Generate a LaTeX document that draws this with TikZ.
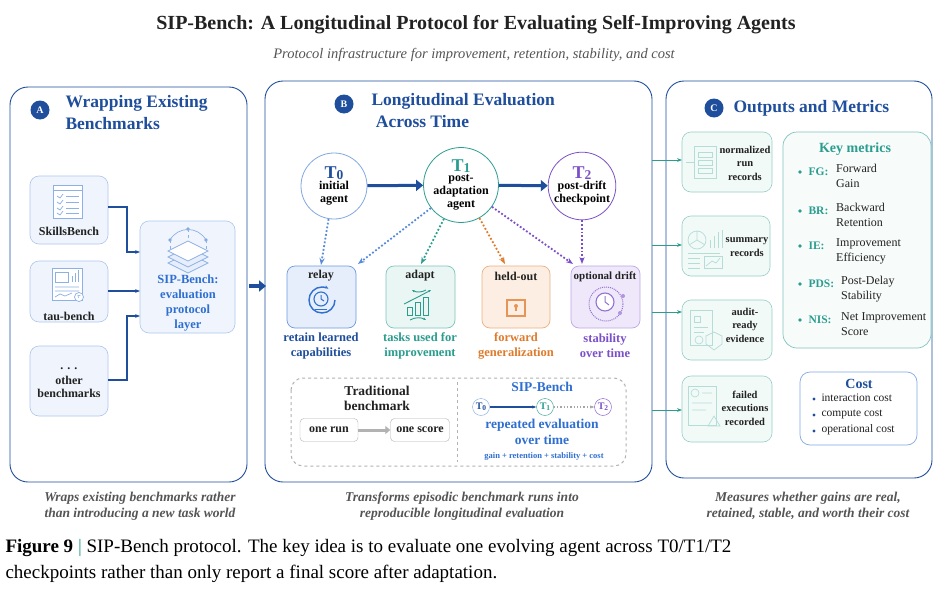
\documentclass[tikz,border=0pt]{standalone}
\usepackage{fontspec}
\setmainfont{Liberation Serif}
\usetikzlibrary{arrows.meta,positioning}
\definecolor{dblue}{HTML}{1F4E9C}
\definecolor{mblue}{HTML}{2F6FD0}
\definecolor{lblue}{HTML}{E6EEFB}
\definecolor{teal}{HTML}{2A9D8F}
\definecolor{lteal}{HTML}{EAF6F3}
\definecolor{orng}{HTML}{E07B2C}
\definecolor{lorng}{HTML}{FCEEE2}
\definecolor{purp}{HTML}{7B4FC9}
\definecolor{lpurp}{HTML}{EFE8FA}
\definecolor{gtxt}{HTML}{555555}
\definecolor{dtxt}{HTML}{222222}
\newcommand{\Tsub}[1]{T\raisebox{-0.15ex}{\scalebox{0.75}{#1}}}
\tikzset{
 panel/.style={draw=dblue,line width=0.9pt,rounded corners=18pt},
 badge/.style={circle,fill=dblue,text=white,font=\bfseries\fontsize{10}{10}\selectfont,inner sep=0pt,minimum size=19pt},
 ptitle/.style={text=dblue,font=\bfseries\fontsize{17.5}{22}\selectfont,align=left,anchor=west},
 sbox/.style={draw=mblue!40,fill=lblue!60,rounded corners=9pt,line width=0.6pt},
 btxt/.style={font=\bfseries\fontsize{12}{13.5}\selectfont,text=dtxt,align=center},
 conn/.style={draw=dblue,line width=1.1pt,-{Stealth[length=5pt]}},
 tc/.style={circle,fill=white,line width=0.8pt,minimum size=66pt,inner sep=0pt,align=center,font=\bfseries\fontsize{12}{13}\selectfont},
 big/.style={draw=dblue,line width=3.5pt,-{Triangle[length=7pt,width=11pt]}},
 dotarr/.style={line width=1.8pt,dotted,-{Stealth[length=7pt]}},
 cbox/.style={draw=teal!50,fill=lteal!60,rounded corners=9pt,line width=0.6pt},
 cconn/.style={draw=teal,line width=1pt,-{Stealth[length=5pt]}},
 captxt/.style={text=gtxt,font=\bfseries\itshape\fontsize{13.5}{16}\selectfont,align=center},
 icon/.style={draw=mblue!55,line width=0.7pt},
}
\begin{document}
\begin{tikzpicture}[x=1pt,y=-1pt]
\useasboundingbox (0,0) rectangle (945,605);
\fill[white] (0,0) rectangle (945,605);
% titles
\node[font=\bfseries\fontsize{20}{22}\selectfont,text=dtxt] (title) at (476,25) {SIP-Bench: A Longitudinal Protocol for Evaluating Self-Improving Agents};
\node[font=\itshape\fontsize{14.5}{16}\selectfont,text=gtxt] (sub) at (474,55) {Protocol infrastructure for improvement, retention, stability, and cost};
% panels
\draw[panel] (10,87) rectangle (247,482);
\draw[panel] (265,81) rectangle (652,482);
\draw[panel] (666,81) rectangle (932,478);
% ---- Panel A
\node[badge] (bA) at (40,110) {A};
\node[ptitle] (tA) at (62,113) {Wrapping Existing\\Benchmarks};
\draw[sbox] (30,176) rectangle (108,244);
\draw[sbox] (30,261) rectangle (108,322);
\draw[sbox] (30,346) rectangle (108,416);
\draw[sbox] (140,221) rectangle (235,333);
\node[btxt] (skt) at (69,231) {SkillsBench};
\node[btxt] (tat) at (69,316) {tau-bench};
\node[btxt,align=center] (ot) at (69,383) {\textbf{. . .}\\[1pt]other\\benchmarks};
\node[font=\bfseries\fontsize{12.5}{15}\selectfont,text=mblue,align=center] (sipt) at (188,303) {SIP-Bench:\\evaluation\\protocol\\layer};
% icons A
\draw[icon,fill=white] (53,185) rectangle (82,218); \draw[icon] (53,190)--(82,190);
\foreach \yy in {196,202,208,213}{\draw[icon] (57,\yy)--(60,\yy+2)--(63,\yy-2); \draw[icon] (66,\yy)--(79,\yy);}
\draw[icon,fill=white] (52,268) rectangle (82,300);
\draw[icon] (55,272) rectangle (68,282); \draw[icon] (72,282)--(72,276) (75,282)--(75,273) (78,282)--(78,270);
\draw[icon] (55,287)--(79,287) (55,291)--(79,291) (55,297)--(60,294)--(65,296)--(72,293);
\draw[icon,fill=white] (79,297) circle (4.5); \node[font=\fontsize{6}{6}\selectfont,text=mblue] at (79,297) {$\tau$};
\draw[icon,fill=lblue] (188,273)--(208,263)--(188,253)--(168,263)--cycle;
\draw[icon,fill=lblue] (188,267)--(208,257)--(188,247)--(168,257)--cycle;
\draw[icon,fill=white] (188,261)--(208,251)--(188,241)--(168,251)--cycle;
\draw[icon] (170,240) .. controls (178,226) and (198,226) .. (206,240);
\foreach \p in {(170,240),(188,229),(206,240)}{\fill[mblue!60] \p circle (1.8);}
\draw[icon,dashed] (170,240)--(170,251) (206,240)--(206,251) (188,229)--(188,241);
% connectors A
\coordinate (a1) at (108,207); \coordinate (a1t) at (140,252);
\coordinate (a2) at (108,291); \coordinate (a2t) at (140,291);
\coordinate (a3) at (108,380); \coordinate (a3t) at (140,316);
\draw[conn] (a1) -- (127,207) -- (127,252) -- (a1t);
\draw[conn] (a2) -- (a2t);
\draw[conn] (a3) -- (127,380) -- (127,316) -- (a3t);
\coordinate (bigA) at (249,286); \coordinate (bigB) at (266,286);
\draw[big] (bigA) -- (bigB);
% ---- Panel B
\node[badge] (bB) at (344,104) {B};
\node[ptitle] (tB) at (368,111) {Longitudinal Evaluation\\\ Across Time};
\node[tc,draw=mblue!60] (T0) at (334,186) {\textcolor{dblue}{\fontsize{18}{18}\selectfont\Tsub{0}}\\[-2pt]initial\\agent};
\node[tc,draw=teal] (T1) at (461,185) {\textcolor{teal}{\fontsize{18}{18}\selectfont\Tsub{1}}\\[-3pt]post-\\adaptation\\agent};
\node[tc,draw=purp,minimum size=64pt] (T2) at (582,186) {\textcolor{purp}{\fontsize{18}{18}\selectfont\Tsub{2}}\\[-2pt]post-drift\\checkpoint};
\draw[big,line width=3pt] (T0) -- (T1);
\draw[big,line width=3pt] (T1) -- (T2);
\draw[draw=mblue!70,fill=lblue,rounded corners=8pt,line width=0.7pt] (287,266) rectangle (356,328);
\draw[draw=teal!60,fill=lteal,rounded corners=8pt,line width=0.7pt] (386,266) rectangle (455,328);
\draw[draw=orng!60,fill=lorng,rounded corners=8pt,line width=0.7pt] (482,266) rectangle (550,328);
\draw[draw=purp!50,fill=lpurp,rounded corners=8pt,line width=0.7pt] (571,266) rectangle (640,328);
\node[btxt] (rl) at (321,276) {relay};
\node[btxt] (ad) at (420,276) {adapt};
\node[btxt] (ho) at (516,276) {held-out};
\node[btxt,font=\bfseries\fontsize{11}{12}\selectfont] (od) at (605,277) {optional drift};
\coordinate (rlT) at (321,265); \coordinate (rlR) at (358,264);
\coordinate (adT) at (421,264); \coordinate (hoT) at (505,264); \coordinate (odL) at (573,264); \coordinate (odT) at (582,264);
\draw[dotarr,mblue!80] (T0) -- (rlT);
\draw[dotarr,mblue!80] (T1) -- (rlR);
\draw[dotarr,teal] (T1) -- (adT);
\draw[dotarr,orng] (T1) -- (hoT);
\draw[dotarr,purp] (T1) -- (odL);
\draw[dotarr,purp] (T2) -- (odT);
% icons B
\draw[mblue,line width=1.4pt,-{Stealth[length=4pt]}] (335,300) arc (0:300:13);
\draw[mblue,line width=1.1pt] (321,299) circle (7); \draw[mblue,line width=1pt] (321,295)--(321,299)--(324,301);
\draw[mblue,line width=1pt] (315,309)--(327,309) (317,312)--(325,312);
\draw[teal,line width=0.9pt] (407,315) rectangle (412,307) (415,315) rectangle (420,302) (423,315) rectangle (428,297);
\draw[teal,line width=0.9pt,-{Stealth[length=3pt]}] (404,304) .. controls (412,300) and (420,296) .. (431,290);
\draw[teal,line width=0.9pt,-{Stealth[length=3pt]}] (426,290) arc (60:120:14);
\draw[teal,line width=0.9pt,-{Stealth[length=3pt]}] (410,320) arc (240:300:16);
\draw[orng!80,line width=1.1pt] (510,300) arc (180:0:6) -- (522,300);
\draw[orng!80,line width=1.1pt,fill=lorng] (507,300) rectangle (525,316);
\fill[orng!80] (516,306) circle (2); \draw[orng!80,line width=1.2pt] (516,306)--(516,311);
\draw[purp!80,line width=1pt,densely dotted] (606,304) circle (17);
\draw[purp!80,line width=1.1pt,fill=white] (605,302) circle (9); \draw[purp!80,line width=1pt] (605,296)--(605,302)--(609,305);
\fill[purp!60] (623,296) circle (2) (620,313) circle (2);
\tikzset{lb/.style={font=\bfseries\fontsize{12.5}{15}\selectfont,align=center}}
\node[lb,text=dblue] (l1) at (321,346) {retain learned\\capabilities};
\node[lb,text=teal] (l2) at (420,346) {tasks used for\\improvement};
\node[lb,text=orng] (l3) at (516,346) {forward\\generalization};
\node[lb,text=purp] (l4) at (605,346) {stability\\over time};
% comparison box
\draw[gray!60,dashed,line width=1pt,rounded corners=12pt] (291,378) rectangle (626,466);
\draw[gray!60,dashed,line width=1pt] (457,382) -- (457,462);
\node[btxt,font=\bfseries\fontsize{13.5}{15}\selectfont] (trad) at (377,398) {Traditional\\benchmark};
\node[draw=gray!60,rounded corners=4pt,minimum width=58pt,minimum height=23pt,btxt] (run) at (329,430) {one run};
\node[draw=gray!60,rounded corners=4pt,minimum width=59pt,minimum height=23pt,btxt] (score) at (420,430) {one score};
\draw[gray!60,line width=3pt,-{Triangle[length=5pt,width=8pt]}] (run) -- (score);
\node[font=\bfseries\fontsize{13.5}{15}\selectfont,text=mblue] (sipb) at (542,387) {SIP-Bench};
\node[circle,draw=mblue!60,minimum size=17pt,inner sep=0pt,text=dblue,font=\bfseries\fontsize{10}{10}\selectfont] (s0) at (481,407) {\Tsub{0}};
\node[circle,draw=teal,minimum size=17pt,inner sep=0pt,text=teal,font=\bfseries\fontsize{10}{10}\selectfont] (s1) at (545,407) {\Tsub{1}};
\node[circle,draw=purp,minimum size=17pt,inner sep=0pt,text=purp,font=\bfseries\fontsize{10}{10}\selectfont] (s2) at (603,407) {\Tsub{2}};
\draw[dblue,line width=1.5pt,-{Stealth[length=4pt]}] (s0) -- (s1);
\draw[gray!70,line width=1.3pt,dotted,-{Stealth[length=4pt]}] (s1) -- (s2);
\node[font=\bfseries\fontsize{13.5}{16}\selectfont,text=mblue,align=center] (rep) at (542,432) {repeated evaluation\\over time};
\node[font=\bfseries\fontsize{8.5}{9}\selectfont,text=mblue] (gain) at (544,456) {gain + retention + stability + cost};
% ---- Panel C
\node[badge] (bC) at (714,108) {C};
\node[ptitle] (tC) at (730,108) {Outputs and Metrics};
\draw[cbox] (682,132) rectangle (772,192);
\draw[cbox] (682,216) rectangle (770,276);
\draw[cbox] (682,300) rectangle (772,360);
\draw[cbox] (682,376) rectangle (772,442);
\tikzset{ct/.style={btxt,font=\bfseries\fontsize{10.5}{13.5}\selectfont}}
\node[ct] (c1) at (745,163) {normalized\\run\\records};
\node[ct] (c2) at (747,247) {summary\\records};
\node[ct] (c3) at (745,325) {audit-\\ready\\evidence};
\node[ct] (c4) at (745,408) {failed\\executions\\recorded};
% icons C
\begin{scope}[teal!35,line width=0.7pt]
\draw (694,146) rectangle (716,178); \foreach \yy in {152,160,168}{\draw (698,\yy) rectangle (712,\yy+5);}
\draw (686,162)--(694,162);
\draw (697,240) circle (9) (697,240)--(697,231) (697,240)--(705,245) (697,240)--(689,245);
\draw (710,248)--(710,240) (714,248)--(714,236) (718,248)--(718,232) (722,248)--(722,230);
\draw (688,253)--(720,253) (688,258)--(700,258) (688,263)--(700,263) (688,268)--(700,268);
\draw (704,256) rectangle (722,268); \draw (706,266)--(712,261)--(716,263)--(720,258);
\draw (690,310) rectangle (712,345); \draw (694,316) rectangle (700,322) (694,327)--(708,327) (694,332)--(704,332);
\draw (699,340) circle (4); \draw (714,332)--(722,336)--(722,344)--(714,350)--(706,344)--(706,336)--cycle;
\draw (688,386) rectangle (716,425); \draw (695,393) circle (4) (702,393)--(712,393) (692,403)--(712,403) (692,410)--(706,410);
\draw (714,416)--(720,426)--(708,426)--cycle;
\end{scope}
\coordinate (cb1) at (652,160); \coordinate (cb2) at (652,245); \coordinate (cb3) at (652,312); \coordinate (cb4) at (652,410);
\draw[cconn] (cb1) -- (682,160);
\draw[cconn] (cb2) -- (682,245);
\draw[cconn] (cb3) -- (682,312);
\draw[cconn] (cb4) -- (682,410);
% key metrics
\draw[draw=teal!60,fill=lteal!40,rounded corners=14pt,line width=0.7pt] (783,132) rectangle (931,348);
\node[font=\bfseries\fontsize{14}{16}\selectfont,text=teal] (km) at (855,149) {Key metrics};
\tikzset{mk/.style={font=\bfseries\fontsize{11.5}{13}\selectfont,text=teal,anchor=west},
 md/.style={font=\fontsize{12}{15}\selectfont,text=dtxt,anchor=north west,align=left,inner sep=0pt}}
\foreach \yy/\k/\d/\xx in {172/FG:/{Forward\\Gain}/836, 211/BR:/{Backward\\Retention}/836, 246/IE:/{Improvement\\Efficiency}/836, 284/PDS:/{Post-Delay\\Stability}/841, 320/NIS:/{Net Improvement\\Score}/841}{
 \fill[teal] (800,\yy) circle (1.8);
 \node[mk] at (805,\yy) {\k};
 \node[md] at (\xx,\yy-8) {\d};
}
\draw[draw=mblue!60,fill=white,rounded corners=10pt,line width=0.7pt] (800,372) rectangle (917,445);
\node[font=\bfseries\fontsize{14}{16}\selectfont,text=dblue] (cost) at (859,384) {Cost};
\foreach \yy/\t in {398/interaction cost,414/compute cost,430/operational cost}{
 \fill[dblue] (814,\yy+1) circle (1.7);
 \node[font=\fontsize{11.5}{13}\selectfont,text=dtxt,anchor=west] at (818,\yy) {\t};
}
% captions
\node[captxt] (capA) at (140,506) {Wraps existing benchmarks rather\\than introducing a new task world};
\node[captxt] (capB) at (462,506) {Transforms episodic benchmark runs into\\reproducible longitudinal evaluation};
\node[captxt] (capC) at (808,506) {Measures whether gains are real,\\retained, stable, and worth their cost};
\node[anchor=west,font=\fontsize{19}{26}\selectfont,align=left,text=black] (fig) at (2,561) {\textbf{Figure 9} \textcolor{teal}{|} SIP-Bench protocol. The key idea is to evaluate one evolving agent across T0/T1/T2\\checkpoints rather than only report a final score after adaptation.};
\end{tikzpicture}
\end{document}
